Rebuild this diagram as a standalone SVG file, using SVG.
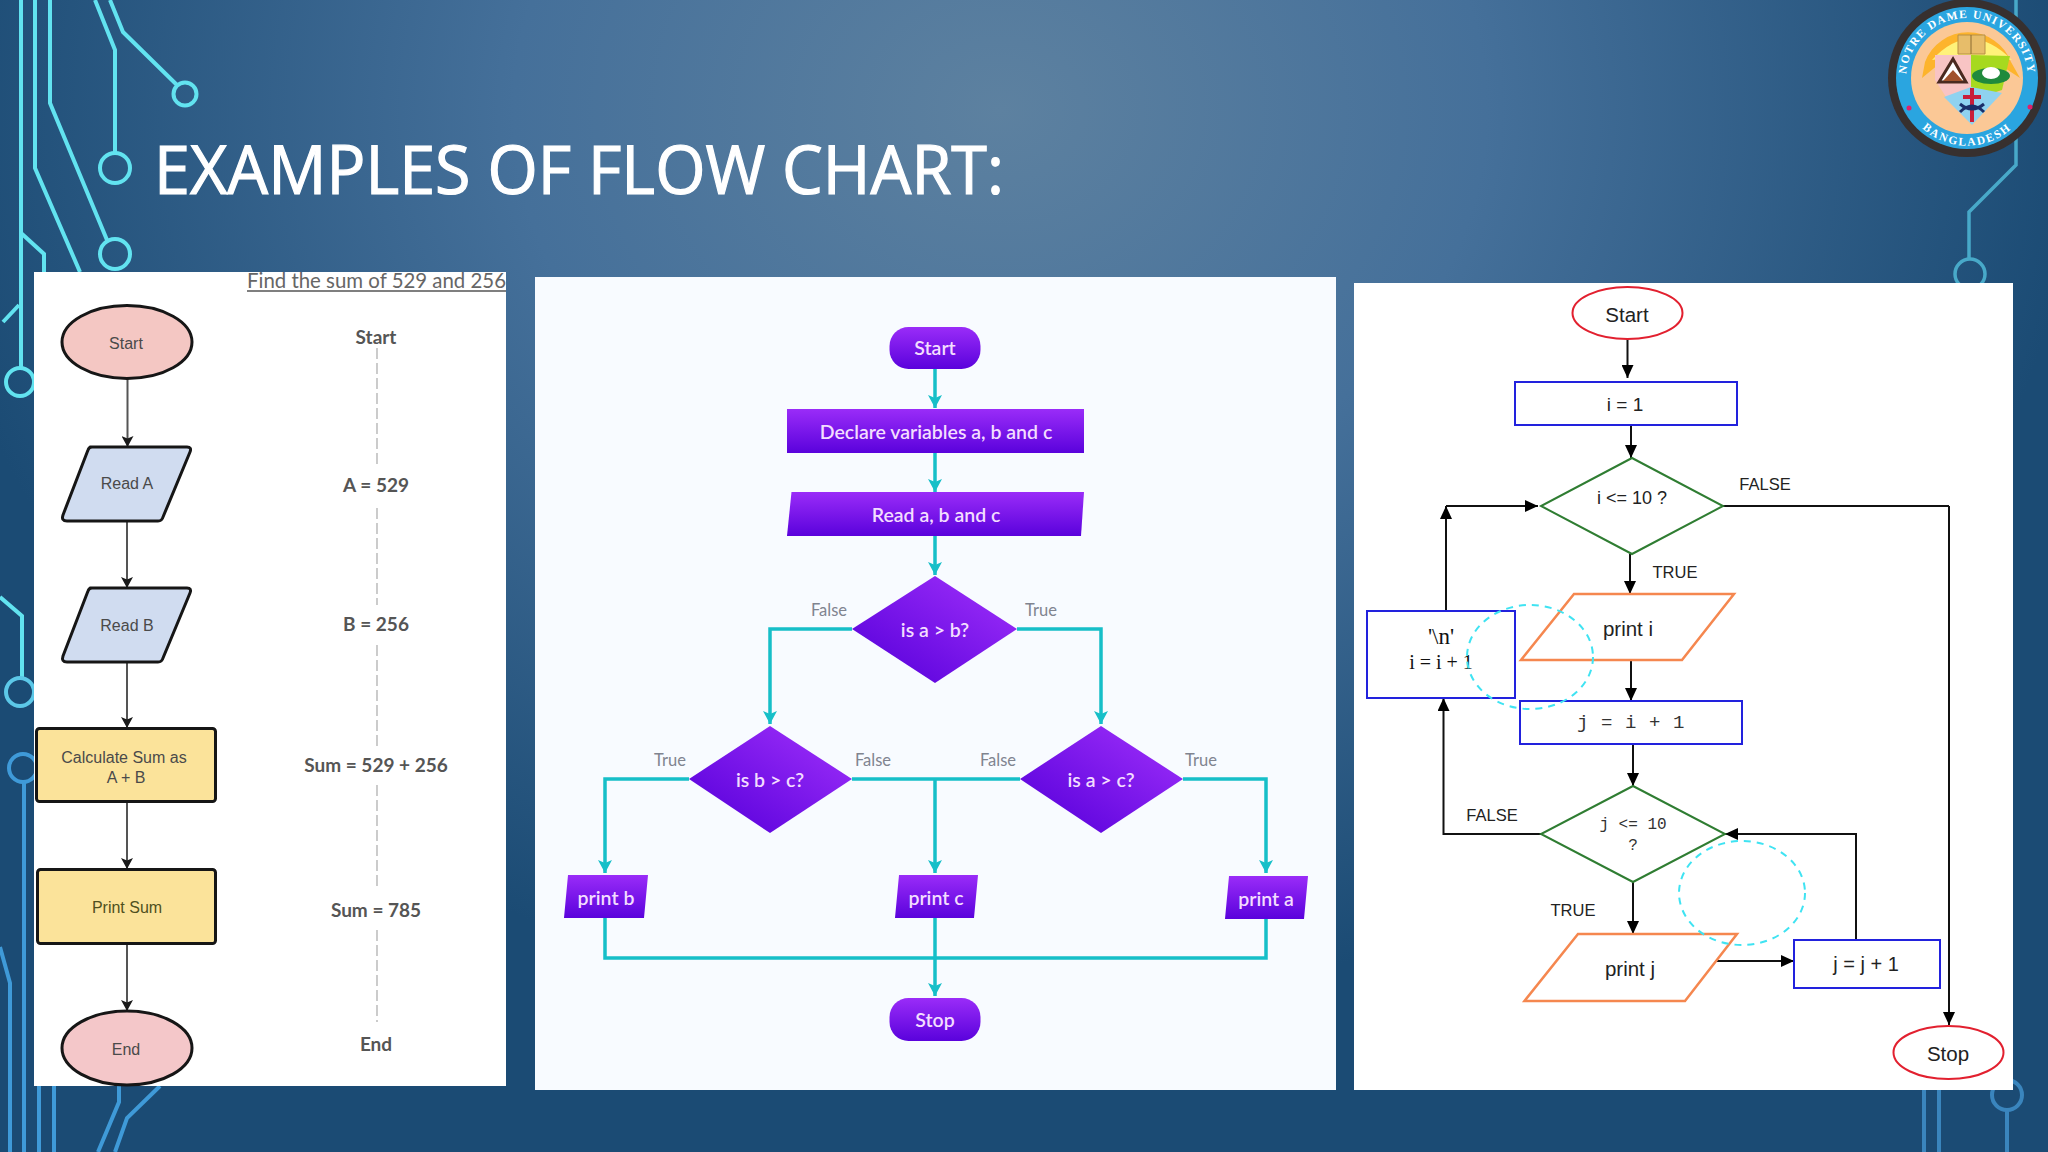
<svg xmlns="http://www.w3.org/2000/svg" width="2048" height="1152" viewBox="0 0 2048 1152">
<style>
.cy{fill:none;stroke:#62e3f0;stroke-width:4}
.bl{fill:none;stroke:#3f9ad8;stroke-width:4}
.tl{fill:none;stroke:#48a9c9;stroke-width:3.5}
.br{fill:none;stroke:#3a85bd;stroke-width:4}
.panel{fill:#fff}
.p1n{stroke:#161616;stroke-width:3;stroke-linejoin:round}
.p1t{font:16px "Liberation Sans",Arial,sans-serif;fill:#4a4a4a;text-anchor:middle;dominant-baseline:central}
.p1r{font:700 19px "Lato",sans-serif;fill:#555;text-anchor:middle;dominant-baseline:central}
.p1c{fill:none;stroke:#555;stroke-width:2}
.p1d{fill:none;stroke:#aaa;stroke-width:1.2;stroke-dasharray:11 4}
.p2t{font:600 19.500px "Lato",sans-serif;fill:#f3ddff;text-anchor:middle;dominant-baseline:central}
.p2l{font:16.500px "Lato",sans-serif;fill:#80848f;text-anchor:middle;dominant-baseline:central}
.p2c{fill:none;stroke:#16bfc8;stroke-width:3.5}
.p3c{fill:none;stroke:#111;stroke-width:2}
.p3t{font:20.500px "Liberation Sans",Arial,sans-serif;fill:#222;text-anchor:middle;dominant-baseline:central}
.p3s{font:18px "Liberation Sans",Arial,sans-serif;fill:#222;text-anchor:middle;dominant-baseline:central}
.p3l{font:16.500px "Liberation Sans",Arial,sans-serif;fill:#222;text-anchor:middle;dominant-baseline:central}
.p3m{font:19px "Liberation Mono",monospace;fill:#333;text-anchor:middle;dominant-baseline:central;letter-spacing:.6px}
.p3f{font:20px "Liberation Serif",serif;fill:#111;text-anchor:middle;dominant-baseline:central}
.rb{fill:#fff;stroke:#2222dd;stroke-width:2}
.gd{fill:#fff;stroke:#2f7d32;stroke-width:2}
.or{fill:#fff;stroke:#f5874f;stroke-width:2.5}
.re{fill:#fff;stroke:#e2202f;stroke-width:2}
.dc{fill:none;stroke:#3fe3f2;stroke-width:2;stroke-dasharray:7 6}
</style>
<defs>
<radialGradient id="bg" gradientUnits="userSpaceOnUse" cx="0" cy="0" r="1" gradientTransform="translate(1000 110) scale(1080 900)">
<stop offset="0" stop-color="#5d81a0"/><stop offset=".45" stop-color="#45709a"/><stop offset="1" stop-color="#1b4b74"/>
</radialGradient>
<linearGradient id="pv" x1="0" y1="0" x2="0" y2="1"><stop offset="0" stop-color="#9a2cf8"/><stop offset="1" stop-color="#5a02dc"/></linearGradient>
<linearGradient id="pd" x1="0" y1="1" x2="1" y2="0"><stop offset=".1" stop-color="#5a02dc"/><stop offset=".9" stop-color="#9a2cf8"/></linearGradient>
<marker id="a1" markerUnits="userSpaceOnUse" markerWidth="12" markerHeight="12" refX="11" refY="6" orient="auto"><path d="M0 0L11 6L0 12L2.500 6Z" fill="#1a1a1a"/></marker>
<marker id="a2" markerUnits="userSpaceOnUse" markerWidth="14" markerHeight="14" refX="13" refY="7" orient="auto"><path d="M0 0L13 7L0 14L3 7Z" fill="#16bfc8"/></marker>
<marker id="a3" markerUnits="userSpaceOnUse" markerWidth="13" markerHeight="12" refX="13" refY="6" orient="auto"><path d="M0 0L13 6L0 12Z" fill="#000"/></marker>
<clipPath id="c1"><rect x="34" y="272" width="472" height="814"/></clipPath>
<path id="arcT" d="M1907 90A61 61 0 1 1 2027 90"/>
<path id="arcB" d="M1905 104A67 67 0 0 0 2029 104"/>
</defs>
<rect width="2048" height="1152" fill="url(#bg)"/>
<g id="circuit">
<path class="cy" d="M21 0V368M35 0V168L80 272M50 0V103L107 240M95 0L115 50V153M110 0L123 32L177 85M21 233L44 254V272M3 322L19 305"/>
<circle class="cy" cx="115" cy="168" r="15"/><circle class="cy" cx="115" cy="254" r="15"/><circle class="cy" cx="185" cy="94" r="11.500"/><circle class="cy" cx="20" cy="382" r="14"/>
<path class="cy" d="M0 597L22 616V678"/><circle class="bl" cx="20" cy="692" r="14" style="stroke:#5cc8e8"/>
<path class="bl" d="M24 782V1152M0 947L10 983V1152M39 1086V1152M54 1086V1152M119 1086V1102L98 1152M160 1086L127 1118L115 1152"/><circle class="bl" cx="23" cy="768" r="14"/>
<path class="tl" d="M2016 0V165L1969 212V260"/><circle class="tl" cx="1970" cy="274" r="15"/>
<path class="br" d="M1924 1090V1152M1939 1090V1152M2007 1110V1152"/><circle class="br" cx="2007" cy="1095" r="15"/>
</g>
<text id="title" x="154" y="194" font-family="'Open Sans',sans-serif" font-size="68" fill="#fff" stroke="#fff" stroke-width="1.200" textLength="850" lengthAdjust="spacingAndGlyphs">EXAMPLES OF FLOW CHART:</text>
<g id="logo">
<circle cx="1967" cy="78" r="79" fill="#37302f"/><circle cx="1967" cy="78" r="71" fill="#2aa5e0"/><circle cx="1967" cy="78" r="56" fill="#fbc896"/>
<path d="M1925 62A46 46 0 0 1 2011 62L2020 78L1985 55H1950L1922 78Z" fill="#fdb42c"/>
<path d="M1932 60Q1970 18 2012 60L1971 55Z" fill="#fff27a"/>
<path d="M1935 55H1971V97L1948 100L1935 80Z" fill="#f8c4c4"/>
<path d="M1971 55L2010 56L2002 90L1971 100Z" fill="#a6d91f"/>
<path d="M1944 97L1971 87L2002 93L1972 125Z" fill="#8fd2f0"/>
<path d="M1939 82L1953 59L1966 82Z" fill="#fff" stroke="#4a2a20" stroke-width="3"/><path d="M1943 81L1953 70L1963 81Z" fill="#a0522d"/>
<ellipse cx="1991" cy="76" rx="19" ry="8" fill="#1f8a3c"/><ellipse cx="1991" cy="73" rx="9" ry="6" fill="#fff"/>
<path d="M1958 35H1985V54H1958Z" fill="#e7bd6a" stroke="#b78f45"/><path d="M1971 35V54" stroke="#8a6a30"/>
<path d="M1972 88V122M1963 97H1981" stroke="#c81e3a" stroke-width="4" fill="none"/><path d="M1960 104Q1972 114 1984 104M1960 112Q1972 100 1984 112" stroke="#1a2f6a" stroke-width="3" fill="none"/>
<circle cx="1909" cy="108" r="2.500" fill="#e0206a"/><circle cx="2030" cy="107" r="2.500" fill="#e0206a"/>
<text font-family="'Liberation Serif',serif" font-size="11.500" font-weight="700" fill="#fff" text-anchor="middle" letter-spacing="1.300"><textPath href="#arcT" startOffset="50%">NOTRE DAME UNIVERSITY</textPath></text>
<text font-family="'Liberation Serif',serif" font-size="11.500" font-weight="700" fill="#fff" text-anchor="middle" letter-spacing="1.800"><textPath href="#arcB" startOffset="50%">BANGLADESH</textPath></text>
</g>
<g id="panel-sum">
<rect class="panel" x="34" y="272" width="472" height="814"/>
<g clip-path="url(#c1)"><text x="247" y="288" font-family="Lato,sans-serif" font-size="21" fill="#666" textLength="259" lengthAdjust="spacingAndGlyphs">Find the sum of 529 and 256</text><path d="M247 291H506" stroke="#555" stroke-width="1.500"/></g>
<g id="sum-connectors">
<path class="p1c" marker-end="url(#a1)" d="M127.500 378V447"/><path class="p1c" marker-end="url(#a1)" d="M127 521V588"/><path class="p1c" marker-end="url(#a1)" d="M127 662V728"/><path class="p1c" marker-end="url(#a1)" d="M127 802V869"/><path class="p1c" marker-end="url(#a1)" d="M127 944V1011"/>
<path class="p1d" d="M377 348V467M377 508V605M377 645V748M377 785V890M377 930V1022"/>
</g>
<g id="s-start"><ellipse class="p1n" cx="127" cy="342" rx="65" ry="36.500" fill="#f4c7c3"/><text class="p1t" x="126" y="343">Start</text></g>
<g id="s-reada"><path class="p1n" d="M90 447H187Q192 447 190 452L163 517Q162 521 158 521H67Q61 521 63 515L88 450Q89 447 92 447Z" fill="#d0dcf0"/><text class="p1t" x="127" y="483">Read A</text></g>
<g id="s-readb"><path class="p1n" d="M90 588H187Q192 588 190 593L163 658Q162 662 158 662H67Q61 662 63 656L88 591Q89 588 92 588Z" fill="#d0dcf0"/><text class="p1t" x="127" y="625">Read B</text></g>
<g id="s-calc"><rect class="p1n" x="36.500" y="728.500" width="179" height="73" rx="3" fill="#fbe39a"/><text class="p1t" x="124" y="757">Calculate Sum as</text><text class="p1t" x="126" y="777">A + B</text></g>
<g id="s-print"><rect class="p1n" x="37.500" y="869.500" width="178" height="74" rx="3" fill="#fbe39a"/><text class="p1t" x="127" y="907" style="fill:#4f5020">Print Sum</text></g>
<g id="s-end"><ellipse class="p1n" cx="127" cy="1048" rx="65" ry="37" fill="#f4c7c9"/><text class="p1t" x="126" y="1049">End</text></g>
<text class="p1r" x="376" y="336">Start</text><text class="p1r" x="376" y="484">A = 529</text><text class="p1r" x="376" y="623">B = 256</text><text class="p1r" x="376" y="764">Sum = 529 + 256</text><text class="p1r" x="376" y="909">Sum = 785</text><text class="p1r" x="376" y="1043">End</text>
</g>
<g id="panel-purple">
<rect x="535" y="277" width="801" height="813" fill="#f8fbff"/>
<g id="purple-connectors">
<path class="p2c" marker-end="url(#a2)" d="M935 369V408"/><path class="p2c" marker-end="url(#a2)" d="M935 453V492"/><path class="p2c" marker-end="url(#a2)" d="M935 536V575"/>
<path class="p2c" marker-end="url(#a2)" d="M852 629H770V724"/><path class="p2c" marker-end="url(#a2)" d="M1017 629H1101V724"/>
<path class="p2c" marker-end="url(#a2)" d="M689 779H605V873"/><path class="p2c" d="M852 779H1020"/><path class="p2c" marker-end="url(#a2)" d="M935 779V873"/><path class="p2c" marker-end="url(#a2)" d="M1183 779H1266V873"/>
<path class="p2c" d="M605 918V958H1266V919"/><path class="p2c" marker-end="url(#a2)" d="M935 918V996"/>
</g>
<g id="p-start"><rect x="889.500" y="327" width="91" height="42" rx="19" fill="url(#pv)"/><text class="p2t" x="935" y="347">Start</text></g>
<g id="p-declare"><rect x="787" y="409" width="297" height="44" fill="url(#pv)"/><text class="p2t" x="936" y="431">Declare variables a, b and c</text></g>
<g id="p-read"><path d="M791.500 492H1084L1081 536H787Z" fill="url(#pv)"/><text class="p2t" x="936" y="514">Read a, b and c</text></g>
<g id="p-d1"><path d="M935 576L1017 629L935 683L852 629Z" fill="url(#pd)"/><text class="p2t" x="935" y="629">is a &gt; b?</text></g>
<g id="p-d2"><path d="M770 726L852 779L770 833L689 779Z" fill="url(#pd)"/><text class="p2t" x="770" y="779">is b &gt; c?</text></g>
<g id="p-d3"><path d="M1101 726L1183 779L1101 833L1020 779Z" fill="url(#pd)"/><text class="p2t" x="1101" y="779">is a &gt; c?</text></g>
<g id="p-printb"><path d="M568 875H648L644 918H564Z" fill="url(#pv)"/><text class="p2t" x="606" y="897">print b</text></g>
<g id="p-printc"><path d="M899 875H978L974 918H895Z" fill="url(#pv)"/><text class="p2t" x="936" y="897">print c</text></g>
<g id="p-printa"><path d="M1229 876H1308L1304 919H1225Z" fill="url(#pv)"/><text class="p2t" x="1266" y="898">print a</text></g>
<g id="p-stop"><rect x="889.500" y="998" width="91" height="43" rx="19" fill="url(#pv)"/><text class="p2t" x="935" y="1019">Stop</text></g>
<text class="p2l" x="829" y="610">False</text><text class="p2l" x="1041" y="610">True</text><text class="p2l" x="670" y="760">True</text><text class="p2l" x="873" y="760">False</text><text class="p2l" x="998" y="760">False</text><text class="p2l" x="1201" y="760">True</text>
</g>
<g id="panel-loop">
<rect x="1354" y="283" width="659" height="807" fill="#fff"/>
<g id="loop-connectors">
<path class="p3c" marker-end="url(#a3)" d="M1627.500 339V378"/><path class="p3c" marker-end="url(#a3)" d="M1631 425V458"/>
<path class="p3c" d="M1723 506H1949"/><path class="p3c" marker-end="url(#a3)" d="M1949 506V1025"/>
<path class="p3c" marker-end="url(#a3)" d="M1630 554V594"/><path class="p3c" marker-end="url(#a3)" d="M1631 660V701"/><path class="p3c" marker-end="url(#a3)" d="M1633 744V786"/>
<path class="p3c" marker-end="url(#a3)" d="M1446 611V506"/><path class="p3c" marker-end="url(#a3)" d="M1446 506H1538"/>
<path class="p3c" marker-end="url(#a3)" d="M1541 834H1443.500V698"/><path class="p3c" marker-end="url(#a3)" d="M1633 882V934"/>
<path class="p3c" marker-end="url(#a3)" d="M1715 961H1794"/><path class="p3c" marker-end="url(#a3)" d="M1856 940V834H1725"/>
</g>
<g id="l-start"><ellipse class="re" cx="1627.500" cy="313" rx="55" ry="26"/><text class="p3t" x="1627" y="314">Start</text></g>
<g id="l-i1"><rect class="rb" x="1515" y="382" width="222" height="43"/><text class="p3t" x="1625" y="404" style="font-size:19px">i = 1</text></g>
<g id="l-d1"><path class="gd" d="M1632 458L1723 506L1632 554L1541 506Z"/><text class="p3s" x="1632" y="498">i &lt;= 10 ?</text></g>
<g id="l-printi"><path class="or" d="M1574 594H1734L1682 660H1521Z"/><text class="p3t" x="1628" y="628">print i</text></g>
<g id="l-j"><rect class="rb" x="1520" y="701" width="222" height="43"/><text class="p3m" x="1631" y="723">j = i + 1</text></g>
<g id="l-d2"><path class="gd" d="M1633 786L1725 834L1633 882L1541 834Z"/><text class="p3m" x="1633" y="825" style="font-size:16px;letter-spacing:0">j &lt;= 10</text><text class="p3m" x="1633" y="846" style="font-size:16px;letter-spacing:0">?</text></g>
<g id="l-printj"><path class="or" d="M1578 934H1737L1685 1001H1524.500Z"/><text class="p3t" x="1630" y="968">print j</text></g>
<g id="l-jinc"><rect class="rb" x="1794" y="940" width="146" height="48"/><text class="p3t" x="1866" y="964" style="font-size:20px">j = j + 1</text></g>
<g id="l-inc"><rect class="rb" x="1367" y="611" width="148" height="87"/><text class="p3f" x="1441" y="636" style="font-size:23px">'\n'</text><text class="p3f" x="1441" y="662">i = i + 1</text></g>
<g id="l-stop"><ellipse class="re" cx="1948.500" cy="1052.500" rx="55" ry="26.500"/><text class="p3t" x="1948" y="1053">Stop</text></g>
<text class="p3l" x="1765" y="484">FALSE</text><text class="p3l" x="1675" y="572">TRUE</text><text class="p3l" x="1492" y="815">FALSE</text><text class="p3l" x="1573" y="910">TRUE</text>
<ellipse class="dc" cx="1530" cy="657" rx="63" ry="52"/><ellipse class="dc" cx="1742" cy="893" rx="63" ry="52"/>
</g>
</svg>
